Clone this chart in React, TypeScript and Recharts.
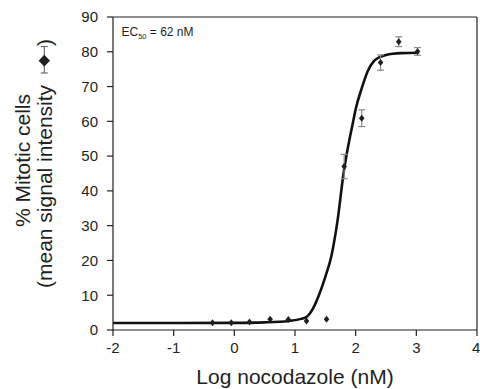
import {
  ComposedChart,
  Line,
  Scatter,
  XAxis,
  YAxis,
  ErrorBar,
  ReferenceLine,
  Label,
} from "recharts";

const FONT = '"Liberation Sans", Arial, Helvetica, sans-serif';
const INK = "#231f20";

// measured points: log [nocodazole] (nM), % mitotic cells, error
const logDose = [-0.36, -0.05, 0.25, 0.59, 0.89, 1.19, 1.52, 1.81, 2.1, 2.41, 2.71, 3.02];
const mitotic = [2.1, 2.1, 2.3, 3.1, 3.0, 2.6, 3.1, 47.0, 60.9, 76.9, 82.9, 80.1];
const errors = [0, 0, 0, 0, 0, 0, 0, 3.5, 2.4, 2.2, 1.4, 1.1];

// fitted curve
const fitX = [-2, -1, 0, 0.5, 0.9, 1.1, 1.2, 1.3, 1.4, 1.5, 1.6, 1.7, 1.8, 1.9, 1.95, 2.0, 2.1, 2.2, 2.3, 2.4, 2.5, 2.75, 3.03];
const fitY = [2.0, 2.0, 2.05, 2.2, 2.6, 3.2, 3.9, 6.3, 10.3, 15.3, 21.3, 31.3, 45, 55, 59.2, 63.5, 69.5, 74.5, 77.3, 78.5, 79.1, 79.6, 79.7];

const xTicks = [-2, -1, 0, 1, 2, 3, 4];
const yTicks = [0, 10, 20, 30, 40, 50, 60, 70, 80, 90];

const points = logDose.map((x, i) => ({ x, y: mitotic[i], err: errors[i] }));
const fit = fitX.map((x, i) => ({ x, y: fitY[i] }));

const Diamond = (props: any) => {
  const { cx, cy } = props;
  if (cx == null || cy == null) return null;
  return (
    <polygon
      points={`${cx},${cy - 3.5} ${cx + 2.8},${cy} ${cx},${cy + 3.5} ${cx - 2.8},${cy}`}
      fill={INK}
    />
  );
};

// y title with the little marker glyph, plus the EC50 note
const Annotations = () => (
  <g fontFamily={FONT} fill={INK}>
    <text x={30} y={160.5} fontSize={21} textAnchor="middle" transform="rotate(-90 30 160.5)">
      % Mitotic cells
    </text>
    <text x={52} y={288} fontSize={21} textAnchor="start" transform="rotate(-90 52 288)">
      (mean signal intensity
    </text>
    <g stroke="#6d6d6d" strokeWidth={1.2}>
      <line x1={44.3} y1={46.5} x2={44.3} y2={73} />
      <line x1={40.8} y1={46.5} x2={47.8} y2={46.5} />
      <line x1={40.8} y1={73} x2={47.8} y2={73} />
    </g>
    <polygon points="44.3,54.8 50,60.7 44.3,66.6 38.6,60.7" fill={INK} />
    <text x={52} y={46} fontSize={21} textAnchor="start" transform="rotate(-90 52 46)">
      )
    </text>
    <text x={121.5} y={35.7} fontSize={12}>
      EC<tspan fontSize={7.5} dy={3}>50</tspan>
      <tspan dy={-3}> = 62 nM</tspan>
    </text>
  </g>
);

export default function App() {
  return (
    <div style={{ position: "absolute", left: 0, top: 0, width: 480, height: 389, background: "#fff" }}>
      <ComposedChart width={480} height={389} margin={{ top: 17, right: 3, bottom: 29, left: 53 }}>
        <XAxis
          dataKey="x"
          type="number"
          domain={[-2, 4]}
          ticks={xTicks}
          allowDataOverflow
          stroke={INK}
          strokeWidth={1.2}
          tickSize={6}
          tickMargin={6}
          height={30}
          tick={{ fill: INK, fontSize: 15, fontFamily: FONT }}
        >
          <Label
            value="Log nocodazole (nM)"
            position="bottom"
            offset={0}
            content={() => (
              <text x={295} y={384} fontSize={21} fontFamily={FONT} fill={INK} textAnchor="middle">
                Log nocodazole (nM)
              </text>
            )}
          />
        </XAxis>
        <YAxis
          dataKey="y"
          type="number"
          domain={[0, 90]}
          ticks={yTicks}
          allowDataOverflow
          stroke={INK}
          strokeWidth={1.2}
          tickSize={6}
          tickMargin={9}
          width={60}
          tick={{ fill: INK, fontSize: 15, fontFamily: FONT }}
        >
          <Label content={() => <Annotations />} />
        </YAxis>
        <ReferenceLine y={90} stroke={INK} strokeWidth={1.2} />
        <ReferenceLine x={4} stroke={INK} strokeWidth={1.2} />
        <Line
          data={fit}
          dataKey="y"
          type="monotone"
          stroke="#111"
          strokeWidth={2.6}
          dot={false}
          activeDot={false}
          isAnimationActive={false}
        />
        <Scatter data={points} dataKey="y" shape={Diamond} isAnimationActive={false}>
          <ErrorBar dataKey="err" direction="y" width={3.5} stroke="#8a8a8a" strokeWidth={1.2} isAnimationActive={false} />
        </Scatter>
      </ComposedChart>
    </div>
  );
}
